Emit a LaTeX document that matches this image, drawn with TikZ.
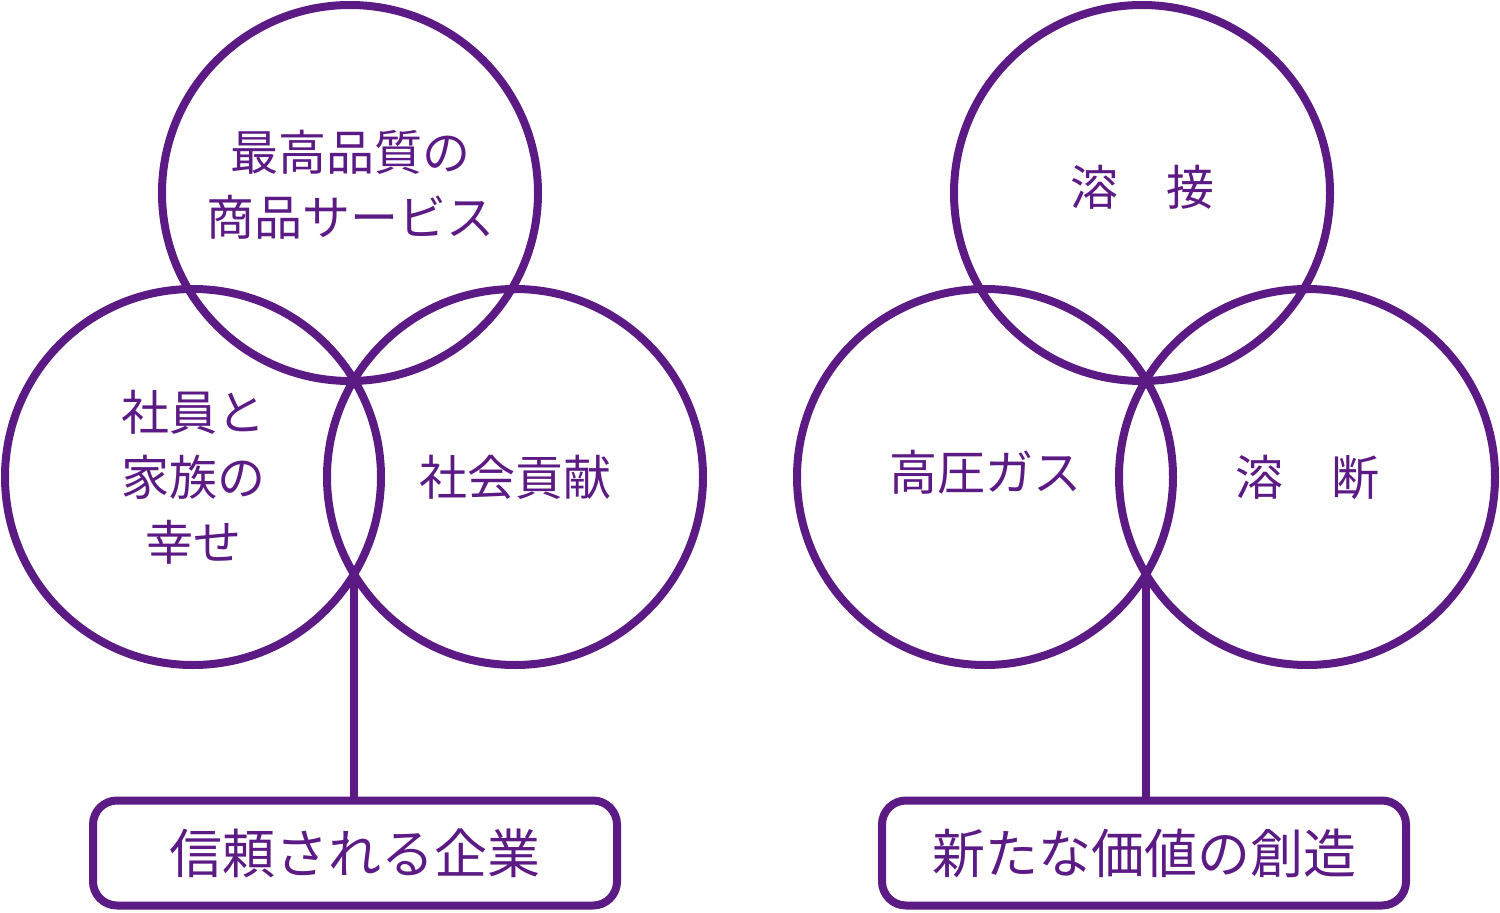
\documentclass[tikz,border=0pt]{standalone}
\usepackage{fontspec}
\setmainfont{Noto Sans CJK JP}
\definecolor{violetline}{HTML}{5C1A85}
\begin{document}
\begin{tikzpicture}[x=1pt,y=-1pt,line cap=round,line join=round]
  \tikzset{
    ring/.style={circle,draw=violetline,line width=8pt,minimum size=376pt,inner sep=0pt,
      text=violetline,align=center,font=\fontsize{48}{65}\selectfont},
    goal/.style={draw=violetline,line width=8pt,rounded corners=24pt,minimum width=524pt,
      minimum height=105pt,inner sep=0pt,text=violetline,font=\fontsize{53}{60}\selectfont},
    link/.style={draw=violetline,line width=8pt,line cap=butt}
  }
  \useasboundingbox (0,0) rectangle (1500,913);
  % left group
  \node[ring,text depth=20pt] (quality) at (350,193) {最高品質の\\商品サービス};
  \node[ring] (family) at (193,477) {社員と\\家族の\\幸せ};
  \node[ring] (society) at (515,477) {社会貢献};
  \coordinate (jointL) at (354,574);
  \node[goal] (trust) at (355,853) {信頼される企業};
  \draw[link] (jointL) -- (jointL |- trust.north);
  % right group
  \node[ring,text depth=16pt] (welding) at (1142,193) {溶　接};
  \node[ring,text depth=14pt] (gas) at (985,477) {高圧ガス};
  \node[ring] (cutting) at (1307,477) {溶　断};
  \coordinate (jointR) at (1146,574);
  \node[goal] (value) at (1144,853) {新たな価値の創造};
  \draw[link] (jointR) -- (jointR |- value.north);
\end{tikzpicture}
\end{document}
